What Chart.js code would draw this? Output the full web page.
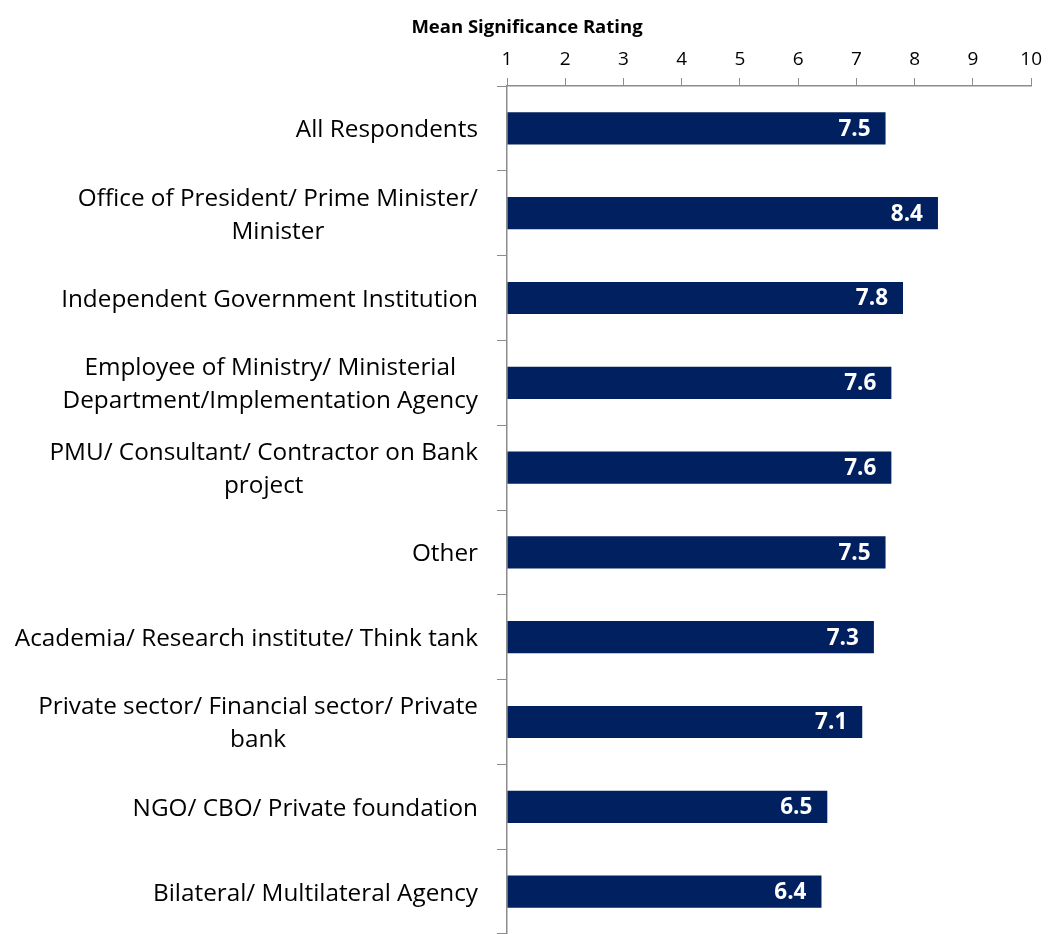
<!DOCTYPE html>
<html>
<head>
<meta charset="utf-8">
<script src="https://cdn.jsdelivr.net/npm/chart.js@4"></script>
<style>
  body { margin: 0; background: #fff; }
  #wrap { width: 1049px; height: 934px; position: relative; }
</style>
</head>
<body>
<div id="wrap"><canvas id="chart"></canvas></div>
<script>
// groups, one entry per bar (lines as they wrap in the picture)
const categories = [
    ["All Respondents"],
    ["Office of President/ Prime Minister/", "Minister"],
    ["Independent Government Institution"],
    ["Employee of Ministry/ Ministerial", "Department/Implementation Agency"],
    ["PMU/ Consultant/ Contractor on Bank", "project"],
    ["Other"],
    ["Academia/ Research institute/ Think tank"],
    ["Private sector/ Financial sector/ Private", "bank"],
    ["NGO/ CBO/ Private foundation"],
    ["Bilateral/ Multilateral Agency"]
];
const meanRating = [7.5, 8.4, 7.8, 7.6, 7.6, 7.5, 7.3, 7.1, 6.5, 6.4];
const axisTitle = "Mean Significance Rating";
const axisMin = 1;
const axisMax = 10;

const FONT = "'Open Sans', Lato, sans-serif";
const barColor = "#002060";
const axisGrey = "#8c8c8c";

// title above the top axis, drawn by hand because it sits left of centre
const titlePlugin = {
    id: "axisTitleLeft",
    afterDraw(chart) {
        const ctx = chart.ctx;
        const xs = chart.scales.x;
        ctx.save();
        ctx.font = "bold 18.5px " + FONT;
        ctx.fillStyle = "#000";
        ctx.textAlign = "center";
        ctx.textBaseline = "middle";
        ctx.fillText(axisTitle, xs.left + 20, 28);
        ctx.restore();
    }
};

// category labels: block right aligned, lines centred inside the block
const catLabelPlugin = {
    id: "catLabels",
    afterDraw(chart) {
        const ctx = chart.ctx;
        const ys = chart.scales.y;
        const right = chart.chartArea.left - 29;
        const lineH = 33;
        ctx.save();
        ctx.font = "24.3px " + FONT;
        ctx.fillStyle = "#000";
        ctx.textBaseline = "middle";
        ctx.textAlign = "center";
        categories.forEach((lines, i) => {
            const yc = ys.getPixelForValue(i) + 2;
            let w = 0;
            lines.forEach(l => { w = Math.max(w, ctx.measureText(l).width); });
            const cx = right - w / 2;
            const y0 = yc - (lines.length - 1) * lineH / 2;
            lines.forEach((l, k) => ctx.fillText(l, cx, y0 + k * lineH));
        });
        ctx.restore();
    }
};

// values inside the end of each bar
const valuePlugin = {
    id: "barValues",
    afterDatasetsDraw(chart) {
        const ctx = chart.ctx;
        const meta = chart.getDatasetMeta(0);
        ctx.save();
        ctx.font = "bold 22.5px " + FONT;
        ctx.fillStyle = "#fff";
        ctx.textAlign = "right";
        ctx.textBaseline = "middle";
        meta.data.forEach((bar, i) => {
            ctx.fillText(meanRating[i].toFixed(1), bar.x - 15, bar.y + 1);
        });
        ctx.restore();
    }
};

new Chart(document.getElementById("chart"), {
    type: "bar",
    data: {
        labels: categories.map(c => c.join(" ")),
        datasets: [{
            data: meanRating,
            backgroundColor: barColor,
            borderWidth: 0,
            base: axisMin,
            categoryPercentage: 1,
            barPercentage: 0.38
        }]
    },
    options: {
        indexAxis: "y",
        responsive: true,
        maintainAspectRatio: false,
        animation: false,
        layout: { padding: { left: 0, right: 17, top: 0, bottom: -2 } },
        plugins: {
            legend: { display: false },
            tooltip: { enabled: false }
        },
        scales: {
            x: {
                position: "top",
                min: axisMin,
                max: axisMax,
                ticks: {
                    stepSize: 1,
                    color: "#000",
                    padding: 7,
                    font: { family: FONT, size: 19 }
                },
                grid: {
                    drawOnChartArea: false,
                    tickLength: 8,
                    color: axisGrey,
                    tickColor: axisGrey
                },
                border: { color: axisGrey, width: 1.5 },
                afterFit(scale) { scale.height = 86; }
            },
            y: {
                ticks: { display: false },
                grid: {
                    offset: true,
                    drawOnChartArea: false,
                    tickLength: 10,
                    color: axisGrey,
                    tickColor: axisGrey
                },
                border: { color: axisGrey, width: 1.5 },
                afterFit(scale) { scale.width = 507; }
            }
        }
    },
    plugins: [titlePlugin, catLabelPlugin, valuePlugin]
});
</script>
</body>
</html>
